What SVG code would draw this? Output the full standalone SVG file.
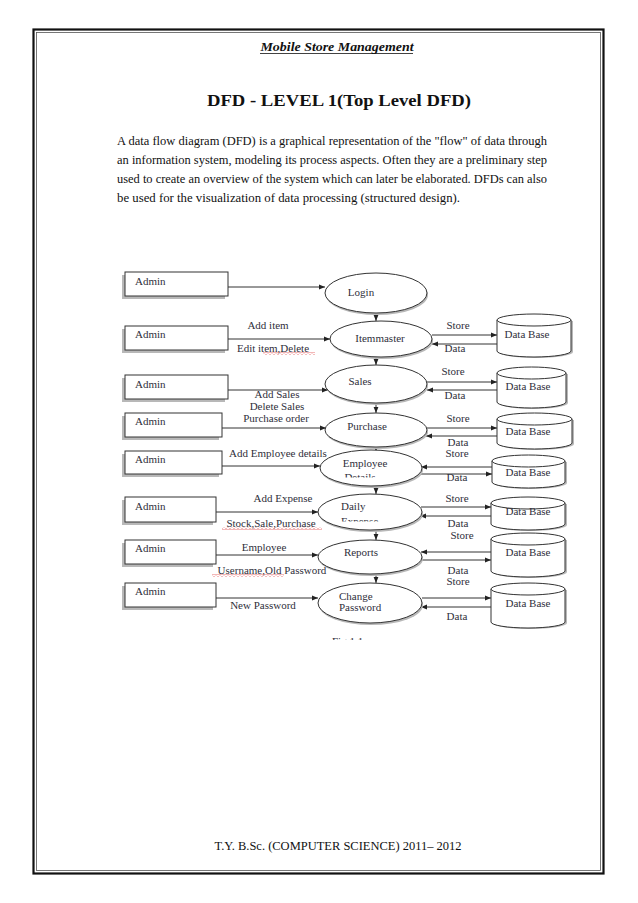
<svg xmlns="http://www.w3.org/2000/svg" width="638" height="903" viewBox="0 0 638 903">
<defs>
<style>
.pg{font-family:"Liberation Serif","Times New Roman",serif;fill:#111}
.t{font-family:"Liberation Serif","Times New Roman",serif;font-size:11px;fill:#2f2f3b}
.mid{text-anchor:middle}
.box{fill:#fff;stroke:#333;stroke-width:1}
.sh{fill:#b8b8b8;stroke:none}
.ell{fill:#fff;stroke:#333;stroke-width:1}
.cyl{fill:#fff;stroke:#333;stroke-width:1}
.ln{stroke:#333;stroke-width:1;fill:none;marker-end:url(#ah)}
.vl{stroke:#333;stroke-width:1;fill:none;marker-end:url(#ah)}
</style>
<marker id="ah" viewBox="0 0 10 10" refX="10" refY="5" markerWidth="6" markerHeight="6" markerUnits="userSpaceOnUse" orient="auto">
<path d="M0,1 L10,5 L0,9 z" fill="#222"/>
</marker>
<pattern id="wave" width="4" height="3" patternUnits="userSpaceOnUse">
<path d="M0,2.5 L2,0.5 L4,2.5" fill="none" stroke="#d33" stroke-width="0.7"/>
</pattern>
<clipPath id="cEmp"><rect x="320" y="450" width="100" height="27.5"/></clipPath>
<clipPath id="cDaily"><rect x="320" y="495" width="100" height="26.5"/></clipPath>
<clipPath id="cFig"><rect x="300" y="600" width="120" height="40"/></clipPath>
</defs>
<rect x="0" y="0" width="638" height="903" fill="#fff"/>

<g id="page-frame">
<rect x="33.5" y="29.5" width="570" height="844" fill="none" stroke="#111" stroke-width="2.2"/>
<rect x="36.5" y="32.5" width="564" height="838" fill="none" stroke="#555" stroke-width="0.8"/>
</g>

<g id="header">
<text class="pg" x="337" y="51" text-anchor="middle" font-size="12.5" font-weight="bold" font-style="italic" textLength="153" lengthAdjust="spacingAndGlyphs">Mobile Store Management</text>
<line x1="260" y1="53.5" x2="413" y2="53.5" stroke="#111" stroke-width="0.8"/>
<text class="pg" x="339" y="106" text-anchor="middle" font-size="17" font-weight="bold" textLength="264" lengthAdjust="spacingAndGlyphs">DFD - LEVEL 1(Top Level DFD)</text>
</g>

<g id="paragraph">
<text class="pg" x="117" y="145" font-size="12.5" textLength="430" lengthAdjust="spacingAndGlyphs">A data flow diagram (DFD) is a graphical representation of the "flow" of data through</text>
<text class="pg" x="117" y="164" font-size="12.5" textLength="430" lengthAdjust="spacingAndGlyphs">an information system, modeling its process aspects. Often they are a preliminary step</text>
<text class="pg" x="117" y="183" font-size="12.5" textLength="430" lengthAdjust="spacingAndGlyphs">used to create an overview of the system which can later be elaborated. DFDs can also</text>
<text class="pg" x="117" y="202" font-size="12.5" textLength="343" lengthAdjust="spacingAndGlyphs">be used for the visualization of data processing (structured design).</text>
</g>

<g id="connectors">
<line class="ln" x1="228" y1="287" x2="325" y2="287"/>
<line class="ln" x1="228" y1="339" x2="330" y2="339"/>
<line class="ln" x1="228" y1="390" x2="328" y2="390"/>
<line class="ln" x1="222" y1="428" x2="326" y2="428"/>
<line class="ln" x1="222" y1="466" x2="320" y2="466"/>
<line class="ln" x1="216" y1="512" x2="318" y2="512"/>
<line class="ln" x1="216" y1="555" x2="318" y2="555"/>
<line class="ln" x1="216" y1="598" x2="318" y2="598"/>
<line class="vl" x1="376" y1="313" x2="376" y2="321"/>
<line class="vl" x1="376" y1="357" x2="376" y2="365"/>
<line class="vl" x1="376" y1="403" x2="376" y2="413"/>
<line class="vl" x1="376" y1="447" x2="376" y2="451"/>
<line class="vl" x1="376" y1="486" x2="376" y2="494"/>
<line class="vl" x1="376" y1="530" x2="376" y2="540"/>
<line class="vl" x1="376" y1="574" x2="376" y2="583"/>
<line class="ln" x1="432" y1="335" x2="497" y2="335"/>
<line class="ln" x1="497" y1="344" x2="432" y2="344"/>
<line class="ln" x1="427" y1="382" x2="497" y2="382"/>
<line class="ln" x1="497" y1="390" x2="427" y2="390"/>
<line class="ln" x1="427" y1="428" x2="497" y2="428"/>
<line class="ln" x1="497" y1="436" x2="426" y2="436"/>
<line class="ln" x1="492" y1="467" x2="421" y2="467"/>
<line class="ln" x1="419" y1="474" x2="492" y2="474"/>
<line class="ln" x1="421" y1="507" x2="491" y2="507"/>
<line class="ln" x1="491" y1="516" x2="420" y2="516"/>
<line class="ln" x1="491" y1="552" x2="421" y2="552"/>
<line class="ln" x1="421" y1="560" x2="491" y2="560"/>
<line class="ln" x1="422" y1="598" x2="491" y2="598"/>
<line class="ln" x1="491" y1="607" x2="421" y2="607"/>
</g>

<g id="flow-labels">
<text class="t mid" x="268" y="329">Add item</text>
<text class="t mid" x="273" y="352">Edit item,Delete</text>
<rect x="263" y="352" width="52" height="3" fill="url(#wave)"/>
<text class="t mid" x="277" y="398">Add Sales</text>
<text class="t mid" x="277" y="410">Delete Sales</text>
<text class="t mid" x="276" y="422">Purchase order</text>
<text class="t mid" x="278" y="457">Add Employee details</text>
<text class="t mid" x="283" y="502">Add Expense</text>
<text class="t mid" x="271" y="527">Stock,Sale,Purchase</text>
<rect x="222" y="527" width="100" height="3" fill="url(#wave)"/>
<text class="t mid" x="264" y="551">Employee</text>
<text class="t mid" x="272" y="574">Username,Old Password</text>
<rect x="212" y="574" width="72" height="3" fill="url(#wave)"/>
<text class="t mid" x="263" y="609">New Password</text>
<text class="t mid" x="458" y="329">Store</text>
<text class="t mid" x="455" y="352">Data</text>
<text class="t mid" x="453" y="375">Store</text>
<text class="t mid" x="455" y="399">Data</text>
<text class="t mid" x="458" y="422">Store</text>
<text class="t mid" x="458" y="446">Data</text>
<text class="t mid" x="457" y="457">Store</text>
<text class="t mid" x="457" y="481">Data</text>
<text class="t mid" x="457" y="502">Store</text>
<text class="t mid" x="458" y="527">Data</text>
<text class="t mid" x="462" y="539">Store</text>
<text class="t mid" x="458" y="574">Data</text>
<text class="t mid" x="458" y="585">Store</text>
<text class="t mid" x="457" y="620">Data</text>
<text class="t" x="332" y="645" clip-path="url(#cFig)">Fig 1.1</text>
</g>

<g id="admin-1"><rect class="sh" x="122" y="275" width="103" height="24"/><rect class="box" x="125" y="272" width="103" height="24"/><text class="t" x="135" y="285">Admin</text></g>
<g id="admin-2"><rect class="sh" x="122" y="329" width="103" height="24"/><rect class="box" x="125" y="326" width="103" height="24"/><text class="t" x="135" y="338">Admin</text></g>
<g id="admin-3"><rect class="sh" x="122" y="378" width="103" height="24"/><rect class="box" x="125" y="375" width="103" height="24"/><text class="t" x="135" y="388">Admin</text></g>
<g id="admin-4"><rect class="sh" x="122" y="416" width="97" height="24"/><rect class="box" x="125" y="413" width="97" height="24"/><text class="t" x="135" y="425">Admin</text></g>
<g id="admin-5"><rect class="sh" x="122" y="454" width="97" height="23"/><rect class="box" x="125" y="451" width="97" height="23"/><text class="t" x="135" y="463">Admin</text></g>
<g id="admin-6"><rect class="sh" x="122" y="500" width="91" height="25"/><rect class="box" x="125" y="497" width="91" height="25"/><text class="t" x="135" y="510">Admin</text></g>
<g id="admin-7"><rect class="sh" x="122" y="543" width="91" height="24"/><rect class="box" x="125" y="540" width="91" height="24"/><text class="t" x="135" y="552">Admin</text></g>
<g id="admin-8"><rect class="sh" x="122" y="586" width="91" height="24"/><rect class="box" x="125" y="583" width="91" height="24"/><text class="t" x="135" y="595">Admin</text></g>

<g id="login"><ellipse class="sh" cx="377" cy="295" rx="51" ry="20"/><ellipse class="ell" cx="376" cy="293" rx="51" ry="20"/><text class="t mid" x="361" y="296">Login</text></g>
<g id="itemmaster"><ellipse class="sh" cx="382" cy="341" rx="51" ry="18"/><ellipse class="ell" cx="381" cy="339" rx="51" ry="18"/><text class="t mid" x="380" y="342">Itemmaster</text></g>
<g id="sales"><ellipse class="sh" cx="377" cy="386" rx="51" ry="19"/><ellipse class="ell" cx="376" cy="384" rx="51" ry="19"/><text class="t mid" x="360" y="385">Sales</text></g>
<g id="purchase"><ellipse class="sh" cx="377" cy="432" rx="51" ry="17"/><ellipse class="ell" cx="376" cy="430" rx="51" ry="17"/><text class="t mid" x="367" y="430">Purchase</text></g>
<g id="employee-details"><ellipse class="sh" cx="372" cy="470" rx="51" ry="18"/><ellipse class="ell" cx="371" cy="468" rx="51" ry="18"/><text class="t mid" x="365" y="467">Employee</text><text class="t mid" x="360" y="481" clip-path="url(#cEmp)">Details</text></g>
<g id="daily-expense"><ellipse class="sh" cx="371" cy="514" rx="52" ry="18"/><ellipse class="ell" cx="370" cy="512" rx="52" ry="18"/><text class="t" x="341" y="510">Daily</text><text class="t" x="341" y="524.5" clip-path="url(#cDaily)">Expense</text></g>
<g id="reports"><ellipse class="sh" cx="371" cy="559" rx="52" ry="17"/><ellipse class="ell" cx="370" cy="557" rx="52" ry="17"/><text class="t mid" x="361" y="556">Reports</text></g>
<g id="change-password"><ellipse class="sh" cx="371" cy="605" rx="52" ry="20"/><ellipse class="ell" cx="370" cy="603" rx="52" ry="20"/><text class="t" x="339" y="600">Change</text><text class="t" x="339" y="611">Password</text></g>

<g id="db-1"><path class="sh" d="M499,321 L499,352 A37,6 0 0 0 573,352 L573,321 z"/><path class="cyl" d="M497,320 L497,351 A37,6 0 0 0 571,351 L571,320"/><ellipse class="cyl" cx="534" cy="320" rx="37" ry="6"/><text class="t mid" x="527" y="338">Data Base</text></g>
<g id="db-2"><path class="sh" d="M499,374 L499,403 A34.5,6 0 0 0 568,403 L568,374 z"/><path class="cyl" d="M497,373 L497,402 A34.5,6 0 0 0 566,402 L566,373"/><ellipse class="cyl" cx="531.5" cy="373" rx="34.5" ry="6"/><text class="t mid" x="528" y="390">Data Base</text></g>
<g id="db-3"><path class="sh" d="M499,420 L499,444 A37.5,6 0 0 0 574,444 L574,420 z"/><path class="cyl" d="M497,419 L497,443 A37.5,6 0 0 0 572,443 L572,419"/><ellipse class="cyl" cx="534.5" cy="419" rx="37.5" ry="6"/><text class="t mid" x="528" y="435">Data Base</text></g>
<g id="db-4"><path class="sh" d="M494,462 L494,483 A36.5,6 0 0 0 567,483 L567,462 z"/><path class="cyl" d="M492,461 L492,482 A36.5,6 0 0 0 565,482 L565,461"/><ellipse class="cyl" cx="528.5" cy="461" rx="36.5" ry="6"/><text class="t mid" x="528" y="476">Data Base</text></g>
<g id="db-5"><path class="sh" d="M493,504 L493,525 A37,6 0 0 0 567,525 L567,504 z"/><path class="cyl" d="M491,503 L491,524 A37,6 0 0 0 565,524 L565,503"/><ellipse class="cyl" cx="528" cy="503" rx="37" ry="6"/><text class="t mid" x="528" y="515">Data Base</text></g>
<g id="db-6"><path class="sh" d="M493,540 L493,572 A37,6 0 0 0 567,572 L567,540 z"/><path class="cyl" d="M491,539 L491,571 A37,6 0 0 0 565,571 L565,539"/><ellipse class="cyl" cx="528" cy="539" rx="37" ry="6"/><text class="t mid" x="528" y="556">Data Base</text></g>
<g id="db-7"><path class="sh" d="M493,590 L493,623 A37,6 0 0 0 567,623 L567,590 z"/><path class="cyl" d="M491,589 L491,622 A37,6 0 0 0 565,622 L565,589"/><ellipse class="cyl" cx="528" cy="589" rx="37" ry="6"/><text class="t mid" x="528" y="607">Data Base</text></g>

<g id="footer">
<text class="pg" x="338" y="850" text-anchor="middle" font-size="12.5" textLength="247" lengthAdjust="spacingAndGlyphs">T.Y. B.Sc. (COMPUTER SCIENCE) 2011– 2012</text>
</g>
</svg>
